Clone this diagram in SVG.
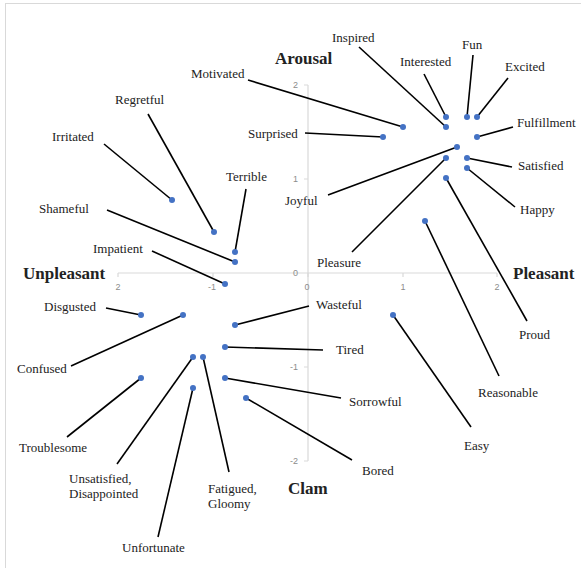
<svg xmlns="http://www.w3.org/2000/svg" width="581" height="568" viewBox="0 0 581 568">
<style>
.lbl{font-family:"Liberation Serif","Times New Roman",serif;font-size:13px;fill:#222}
.ttl{font-family:"Liberation Serif","Times New Roman",serif;font-size:17px;font-weight:bold;fill:#222}
.tick{font-family:"Liberation Sans",Arial,sans-serif;font-size:9px;fill:#8c8c8c}
.ax{stroke:#d9d9d9;stroke-width:1.2;fill:none}
.ln{stroke:#000;stroke-width:1.6;fill:none}
.pt{fill:#4472c4}
</style>
<rect x="5.5" y="3.5" width="580" height="570" fill="#fff" stroke="#d9d9d9" stroke-width="1"/>
<g id="axes">
<line class="ax" x1="118" y1="273" x2="497" y2="273"/>
<line class="ax" x1="308" y1="85" x2="308" y2="461"/>
<path class="ax" d="M118 273v4M213 273v4M403 273v4M497 273v4M308 273v4M304 85h4M304 179h4M304 367h4M304 461h4"/>
<text class="tick" x="118" y="290" text-anchor="middle">2</text>
<text class="tick" x="212" y="290" text-anchor="middle">-1</text>
<text class="tick" x="307" y="290" text-anchor="middle">0</text>
<text class="tick" x="403" y="290" text-anchor="middle">1</text>
<text class="tick" x="497" y="290" text-anchor="middle">2</text>
<text class="tick" x="298" y="88" text-anchor="end">2</text>
<text class="tick" x="298" y="182" text-anchor="end">1</text>
<text class="tick" x="298" y="276" text-anchor="end">0</text>
<text class="tick" x="298" y="370" text-anchor="end">-1</text>
<text class="tick" x="298" y="464" text-anchor="end">-2</text>
<text class="ttl" x="275" y="64">Arousal</text>
<text class="ttl" x="23" y="279">Unpleasant</text>
<text class="ttl" x="513" y="279">Pleasant</text>
<text class="ttl" x="288" y="494">Clam</text>
</g>
<g id="connectors">
<line class="ln" x1="248" y1="80" x2="403" y2="127"/>
<line class="ln" x1="148" y1="114" x2="214" y2="232"/>
<line class="ln" x1="104" y1="144" x2="172" y2="200"/>
<line class="ln" x1="246" y1="189" x2="235" y2="252"/>
<line class="ln" x1="107" y1="210" x2="235" y2="262"/>
<line class="ln" x1="152" y1="251" x2="225" y2="284"/>
<line class="ln" x1="305" y1="133" x2="383" y2="137"/>
<line class="ln" x1="328" y1="195" x2="457" y2="147"/>
<line class="ln" x1="359" y1="47" x2="446" y2="127"/>
<line class="ln" x1="424" y1="74" x2="446" y2="117"/>
<line class="ln" x1="473" y1="55" x2="467" y2="117"/>
<line class="ln" x1="508" y1="78" x2="477" y2="117"/>
<line class="ln" x1="513" y1="127" x2="477" y2="137"/>
<line class="ln" x1="512" y1="167" x2="467" y2="158"/>
<line class="ln" x1="515" y1="207" x2="467" y2="168"/>
<line class="ln" x1="352" y1="252" x2="446" y2="158"/>
<line class="ln" x1="527" y1="321" x2="446" y2="178"/>
<line class="ln" x1="499" y1="376" x2="425" y2="221"/>
<line class="ln" x1="471" y1="427" x2="393" y2="315"/>
<line class="ln" x1="106" y1="308" x2="141" y2="315"/>
<line class="ln" x1="71" y1="366" x2="183" y2="315"/>
<line class="ln" x1="309" y1="306" x2="235" y2="325"/>
<line class="ln" x1="323" y1="350" x2="225" y2="347"/>
<line class="ln" x1="341" y1="398" x2="225" y2="378"/>
<line class="ln" x1="352" y1="460" x2="246" y2="398"/>
<line class="ln" x1="67" y1="437" x2="141" y2="378"/>
<line class="ln" x1="117" y1="464" x2="193" y2="357"/>
<line class="ln" x1="229" y1="472" x2="203" y2="357"/>
<line class="ln" x1="158" y1="537" x2="193" y2="388"/>
</g>
<g id="n-motivated"><circle class="pt" cx="403" cy="127" r="3"/><text class="lbl" x="191" y="78">Motivated</text></g>
<g id="n-regretful"><circle class="pt" cx="214" cy="232" r="3"/><text class="lbl" x="115" y="104">Regretful</text></g>
<g id="n-irritated"><circle class="pt" cx="172" cy="200" r="3"/><text class="lbl" x="52" y="141">Irritated</text></g>
<g id="n-terrible"><circle class="pt" cx="235" cy="252" r="3"/><text class="lbl" x="226" y="181">Terrible</text></g>
<g id="n-shameful"><circle class="pt" cx="235" cy="262" r="3"/><text class="lbl" x="39" y="213">Shameful</text></g>
<g id="n-impatient"><circle class="pt" cx="225" cy="284" r="3"/><text class="lbl" x="93" y="253">Impatient</text></g>
<g id="n-surprised"><circle class="pt" cx="383" cy="137" r="3"/><text class="lbl" x="248" y="138">Surprised</text></g>
<g id="n-joyful"><circle class="pt" cx="457" cy="147" r="3"/><text class="lbl" x="285" y="205">Joyful</text></g>
<g id="n-inspired"><circle class="pt" cx="446" cy="127" r="3"/><text class="lbl" x="332" y="42">Inspired</text></g>
<g id="n-interested"><circle class="pt" cx="446" cy="117" r="3"/><text class="lbl" x="400" y="66">Interested</text></g>
<g id="n-fun"><circle class="pt" cx="467" cy="117" r="3"/><text class="lbl" x="462" y="49">Fun</text></g>
<g id="n-excited"><circle class="pt" cx="477" cy="117" r="3"/><text class="lbl" x="505" y="71">Excited</text></g>
<g id="n-fulfillment"><circle class="pt" cx="477" cy="137" r="3"/><text class="lbl" x="517" y="127">Fulfillment</text></g>
<g id="n-satisfied"><circle class="pt" cx="467" cy="158" r="3"/><text class="lbl" x="518" y="170">Satisfied</text></g>
<g id="n-happy"><circle class="pt" cx="467" cy="168" r="3"/><text class="lbl" x="520" y="214">Happy</text></g>
<g id="n-pleasure"><circle class="pt" cx="446" cy="158" r="3"/><text class="lbl" x="317" y="267">Pleasure</text></g>
<g id="n-proud"><circle class="pt" cx="446" cy="178" r="3"/><text class="lbl" x="519" y="339">Proud</text></g>
<g id="n-reasonable"><circle class="pt" cx="425" cy="221" r="3"/><text class="lbl" x="478" y="397">Reasonable</text></g>
<g id="n-easy"><circle class="pt" cx="393" cy="315" r="3"/><text class="lbl" x="464" y="450">Easy</text></g>
<g id="n-disgusted"><circle class="pt" cx="141" cy="315" r="3"/><text class="lbl" x="44" y="311">Disgusted</text></g>
<g id="n-confused"><circle class="pt" cx="183" cy="315" r="3"/><text class="lbl" x="17" y="373">Confused</text></g>
<g id="n-wasteful"><circle class="pt" cx="235" cy="325" r="3"/><text class="lbl" x="316" y="309">Wasteful</text></g>
<g id="n-tired"><circle class="pt" cx="225" cy="347" r="3"/><text class="lbl" x="336" y="354">Tired</text></g>
<g id="n-sorrowful"><circle class="pt" cx="225" cy="378" r="3"/><text class="lbl" x="349" y="406">Sorrowful</text></g>
<g id="n-bored"><circle class="pt" cx="246" cy="398" r="3"/><text class="lbl" x="362" y="475">Bored</text></g>
<g id="n-troublesome"><circle class="pt" cx="141" cy="378" r="3"/><text class="lbl" x="19" y="452">Troublesome</text></g>
<g id="n-unsatisfied"><circle class="pt" cx="193" cy="357" r="3"/><text class="lbl" x="69" y="483">Unsatisfied,</text><text class="lbl" x="69" y="498">Disappointed</text></g>
<g id="n-fatigued"><circle class="pt" cx="203" cy="357" r="3"/><text class="lbl" x="208" y="493">Fatigued,</text><text class="lbl" x="208" y="508">Gloomy</text></g>
<g id="n-unfortunate"><circle class="pt" cx="193" cy="388" r="3"/><text class="lbl" x="122" y="552">Unfortunate</text></g>
</svg>
